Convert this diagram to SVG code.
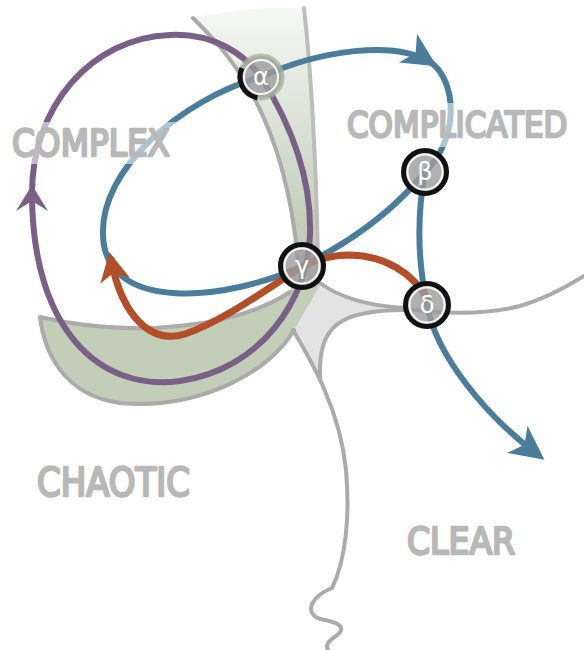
<svg xmlns="http://www.w3.org/2000/svg" width="584" height="650" viewBox="0 0 584 650">
<style>
.gl{fill:none;stroke:#ababab;stroke-width:4;stroke-linecap:round;stroke-linejoin:round}
.blue{fill:none;stroke:#4a7d9b;stroke-width:6;stroke-linecap:round}
.purple{fill:none;stroke:#7a5f86;stroke-width:6;stroke-linecap:round}
.orange{fill:none;stroke:#b24f28;stroke-width:7;stroke-linecap:round}
.lbl{font-family:"DejaVu Sans","Liberation Sans",sans-serif;font-weight:normal;fill:#b8b8b8;stroke:#b8b8b8;stroke-width:2.6;stroke-linejoin:round;stroke-linecap:round}
.lbox{fill:#ffffff;opacity:0.55}
.ring{fill:#9c9c9c;fill-opacity:0.8;stroke:#111;stroke-width:5}
.inner{fill:none;stroke:#ffffff;stroke-width:2;opacity:0.9}
.let{font-family:"DejaVu Sans",sans-serif;font-size:24px;fill:#ffffff;text-anchor:middle}
</style>
<defs>
<linearGradient id="gg" x1="0" y1="10" x2="0" y2="230" gradientUnits="userSpaceOnUse">
<stop offset="0" stop-color="#f5f7f3"/>
<stop offset="1" stop-color="#c2ceb8"/>
</linearGradient>
<marker id="ab" markerUnits="userSpaceOnUse" markerWidth="60" markerHeight="60" viewBox="-30 -30 60 60" refX="0" refY="0" orient="auto" overflow="visible">
<path d="M8,0 L-26,-17 L-17,0 L-26,17 Z" fill="#4a7d9b"/>
</marker>
<marker id="ao" markerUnits="userSpaceOnUse" markerWidth="60" markerHeight="60" viewBox="-30 -30 60 60" refX="0" refY="0" orient="auto" overflow="visible">
<path d="M8,0 L-21,-15 L-13,0 L-21,15 Z" fill="#b24f28"/>
</marker>
<marker id="ap" markerUnits="userSpaceOnUse" markerWidth="60" markerHeight="60" viewBox="-30 -30 60 60" refX="0" refY="0" orient="auto" overflow="visible">
<path d="M8,0 L-18,-16 L-8,0 L-18,16 Z" fill="#7a5f86"/>
</marker>
</defs>

<g id="regions">
<path d="M320,283 Q350,305 405,308 C340,310 318,325 320,378 L293,330 Z" fill="#e3e3e3"/>
<path d="M193,18 C225,50 285,110 298,262 L290,292 C240,325 140,340 40,317 C44,350 62,395 120,403 C200,410 270,372 294,330 L320,285 C318,270 318,266 318,262 C316,160 312,80 304,8 Q250,6 193,18 Z" fill="url(#gg)"/>
<path class="gl" d="M193,18 C225,50 285,110 298,262"/>
<path class="gl" d="M304,8 C312,80 316,160 318,262" style="stroke:#bdbdbd"/>
<path class="gl" d="M290,292 C240,325 140,340 40,317 C44,350 62,395 120,403 C200,410 270,372 294,330"/>
<path class="gl" d="M320,283 Q350,305 405,308"/>
<path class="gl" d="M405,310 C340,310 318,325 320,378"/>
<path class="gl" d="M293,330 C312,362 340,410 346,470 C350,515 346,560 332,588 C312,596 303,612 320,619 C338,622 348,627 336,636 C325,643 322,650 338,656"/>
<path class="gl" d="M405,309 C440,313 480,316 520,306 C545,299 565,288 584,276"/>
</g>

<g id="connectors">
<path class="blue" d="M425,172 C390,215 345,245 302,266 C230,300 105,315 103,235 C100,170 180,100 261,77 C320,50 395,40 430,62" marker-end="url(#ab)"/>
<path class="blue" d="M430,62 C455,78 462,135 425,172"/>
<path class="blue" d="M425,172 C417,215 418,262 427,305 C436,355 485,415 538,455" marker-end="url(#ab)"/>
<path class="purple" d="M32,193 C32,108 90,38 170,35 C215,33 245,55 261,77 C285,115 312,170 310,235 C308,300 260,370 180,381 C100,392 32,330 32,193" marker-end="url(#ap)"/>
<path class="orange" d="M428,300 C412,272 385,256 350,255 C330,255 312,261 300,268 C265,290 225,320 185,334 C150,345 122,315 111,260" marker-end="url(#ao)"/>
</g>

<g id="labels">
<rect class="lbox" x="0" y="122" width="183" height="42" rx="8"/>
<text class="lbl" x="12" y="156" font-size="38" textLength="158" lengthAdjust="spacingAndGlyphs">COMPLEX</text>
<rect class="lbox" x="343" y="103" width="241" height="44" rx="8"/>
<text class="lbl" transform="translate(347,137) scale(0.86,1)" x="0" y="0" font-size="36">COMPLICATED</text>
<text class="lbl" x="37" y="496" font-size="39" textLength="153" lengthAdjust="spacingAndGlyphs">CHAOTIC</text>
<text class="lbl" x="407" y="554" font-size="37" textLength="108" lengthAdjust="spacingAndGlyphs">CLEAR</text>
</g>

<g id="node-alpha">
<circle cx="261" cy="77" r="21" fill="#9c9c9c" fill-opacity="0.8" stroke="#a7ad9f" stroke-opacity="0.75" stroke-width="5"/>
<path d="M257.4,97.7 A21,21 0 0 1 242,68.1" fill="none" stroke="#111" stroke-width="5"/>
<circle class="inner" cx="261" cy="77" r="17"/>
<text class="let" x="261" y="85">α</text>
</g>
<g id="node-beta">
<circle class="ring" cx="425" cy="172" r="21.5"/>
<circle class="inner" cx="425" cy="172" r="17.5"/>
<text class="let" x="425" y="180">β</text>
</g>
<g id="node-gamma">
<circle class="ring" cx="302" cy="266" r="21.5"/>
<circle class="inner" cx="302" cy="266" r="17.5"/>
<text class="let" x="302" y="274">γ</text>
</g>
<g id="node-delta">
<circle class="ring" cx="427" cy="305" r="21.5"/>
<circle class="inner" cx="427" cy="305" r="17.5"/>
<text class="let" x="427" y="313">δ</text>
</g>
</svg>
